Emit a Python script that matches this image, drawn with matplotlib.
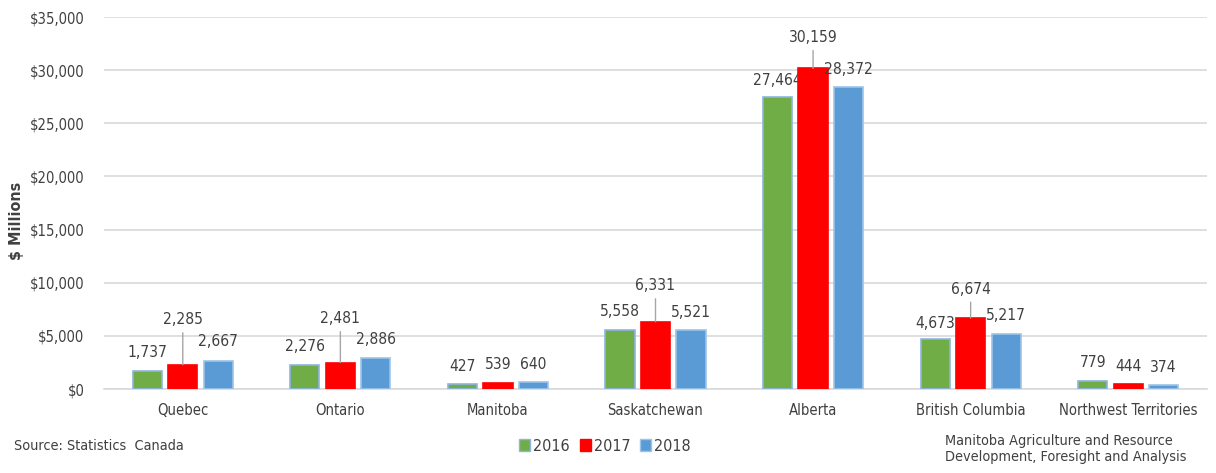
import numpy as np
import matplotlib.pyplot as plt
from matplotlib.patches import Patch

provinces = ['Quebec', 'Ontario', 'Manitoba', 'Saskatchewan', 'Alberta',
             'British Columbia', 'Northwest Territories']
years = ['2016', '2017', '2018']
v2016 = [1737, 2276, 427, 5558, 27464, 4673, 779]
v2017 = [2285, 2481, 539, 6331, 30159, 6674, 444]
v2018 = [2667, 2886, 640, 5521, 28372, 5217, 374]

colors = ['#70AD47', '#FF0000', '#5B9BD5']
edges = ['#8DB4E2', '#FF0000', '#9DC3E6']
# label height above bar top (px); 2017 labels pulled up with leader lines
lift = [[18, 18, 18, 18, 17, 16, 18],
        [45, 44, 19, 36, 31, 29, 18],
        [19, 19, 18, 18, 18, 18, 18]]

plt.rcParams['font.family'] = ['DejaVu Sans']
plt.rcParams['font.stretch'] = 'condensed'

fig = plt.figure(figsize=(12.16, 4.73), dpi=100)
ax = fig.add_axes([104 / 1216, 1 - 389 / 473, (1207 - 104) / 1216, (389 - 17) / 473])

x = np.arange(len(provinces))
w = 0.185
step = 0.225
series = [v2016, v2017, v2018]
for i, vals in enumerate(series):
    pos = x + (i - 1) * step
    ax.bar(pos, vals, w, color=colors[i], edgecolor=edges[i], linewidth=1.2, zorder=3)
    for j, v in enumerate(vals):
        off = lift[i][j] * 0.72
        lead = off > 20
        ax.annotate(f'{v:,}', xy=(pos[j], v), xytext=(0, off), textcoords='offset points',
                    ha='center', va='center', fontsize=11.2, color='#404040',
                    arrowprops=dict(arrowstyle='-', color='#A6A6A6', lw=1,
                                    shrinkA=2, shrinkB=0) if lead else None)

ax.set_ylim(0, 35000)
ax.set_xlim(-0.5, len(provinces) - 0.5)
ax.set_yticks(np.arange(0, 35001, 5000))
ax.set_yticklabels([f'${t:,}' for t in range(0, 35001, 5000)])
ax.set_xticks(x)
ax.set_xticklabels(provinces)
ax.tick_params(axis='both', length=0, labelsize=10.6, colors='#404040')
ax.tick_params(axis='y', pad=14)
ax.tick_params(axis='x', pad=10)
ax.grid(axis='y', color='#D9D9D9', linewidth=1.2, zorder=0)
for s in ['top', 'right', 'left']:
    ax.spines[s].set_visible(False)
ax.spines['bottom'].set_color('#D9D9D9')
ax.spines['bottom'].set_linewidth(1.2)

fig.text(17 / 1216, 1 - 221 / 473, '$ Millions', fontsize=11.5, fontweight='bold',
         color='#404040', rotation=90, ha='center', va='center')

handles = [Patch(facecolor=colors[i], edgecolor=edges[i]) for i in range(3)]
fig.legend(handles, years, loc='center', bbox_to_anchor=(605 / 1216, 1 - 446 / 473),
           ncol=3, frameon=False, fontsize=11.5, handlelength=0.7, handleheight=0.7,
           handletextpad=0.2, columnspacing=0.6, labelcolor='#404040')

fig.text(14 / 1216, 1 - 446 / 473, 'Source: Statistics  Canada', fontsize=10.4,
         color='#404040', va='center', ha='left')
fig.text(945 / 1216, 1 - 449 / 473,
         'Manitoba Agriculture and Resource\nDevelopment, Foresight and Analysis',
         fontsize=10.4, color='#404040', va='center', ha='left', linespacing=1.25)

plt.savefig('out.png', dpi=100)
